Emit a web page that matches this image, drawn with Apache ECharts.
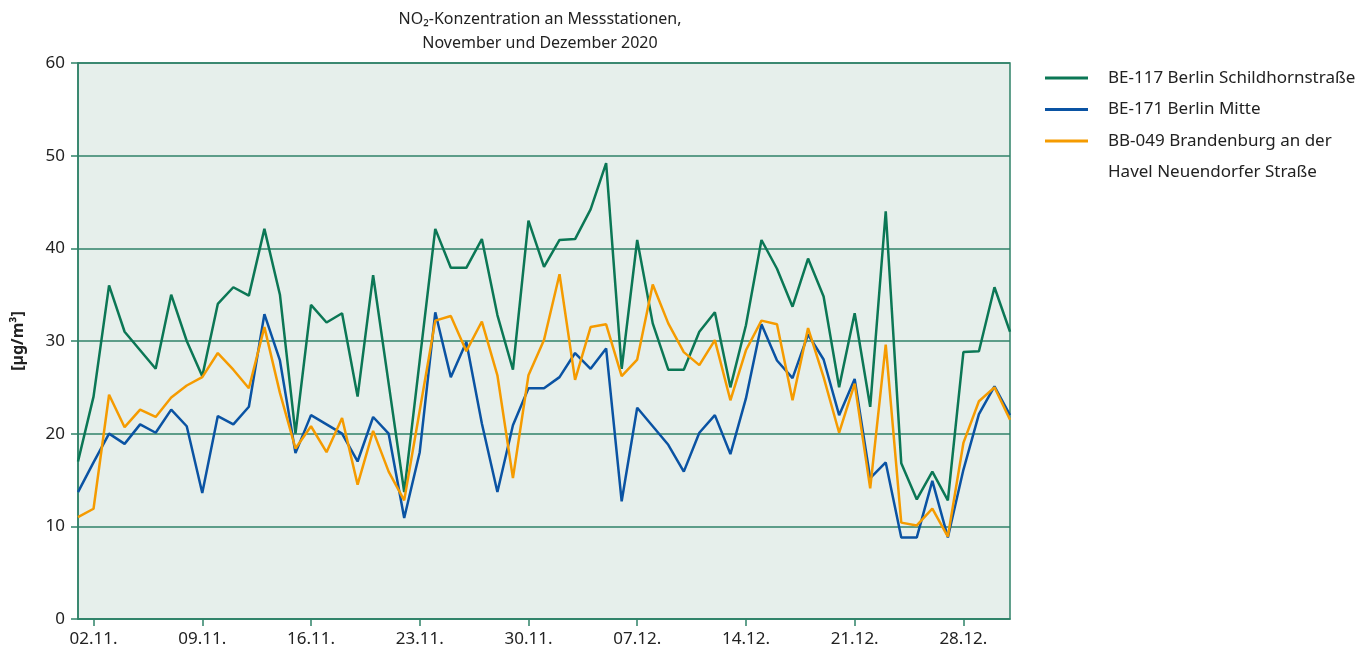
<!DOCTYPE html>
<html>
<head>
<meta charset="utf-8">
<script src="https://cdn.jsdelivr.net/npm/echarts@6/dist/echarts.min.js"></script>
<style>
    html, body { margin: 0; padding: 0; background: #fff; }
    #chart { width: 1372px; height: 656px; }
</style>
</head>
<body>
<div id="chart"></div>
<script>
    // Tage 01.11. bis 31.12.2020
    var days = [];
    for (var d = 1; d <= 30; d++) days.push((d < 10 ? '0' + d : d) + '.11.');
    for (var d = 1; d <= 31; d++) days.push((d < 10 ? '0' + d : d) + '.12.');

    var be117 = [17, 24, 36, 31, 29, 27, 35, 30, 26.2, 34, 35.8, 34.9, 42.1, 35, 20, 33.9, 32, 33, 24, 37.1,
                 25.4, 13.7, 27.9, 42.1, 37.9, 37.9, 41, 32.8, 26.9, 43, 38, 40.9, 41, 44.2, 49.2, 27,
                 40.9, 31.9, 26.9, 26.9, 31, 33.1, 25, 31.7, 40.9, 37.8, 33.7, 38.9, 34.8, 25, 33,
                 22.9, 44, 16.8, 12.9, 15.9, 12.8, 28.8, 28.9, 35.8, 31];
    var be171 = [13.7, 16.9, 20, 18.9, 21, 20.1, 22.6, 20.8, 13.6, 21.9, 21, 22.9, 32.9, 27.9, 17.9, 22, 21, 20, 17, 21.8,
                 20, 10.9, 18, 33.1, 26.1, 29.9, 21.1, 13.7, 20.9, 24.9, 24.9, 26.1, 28.7, 27, 29.2, 12.7,
                 22.8, 20.8, 18.8, 15.9, 20.1, 22, 17.8, 23.8, 31.8, 27.9, 26, 30.7, 28, 22, 25.9,
                 15.2, 16.9, 8.8, 8.8, 14.9, 8.8, 16.1, 22.1, 25.1, 22];
    var bb049 = [11, 11.9, 24.2, 20.7, 22.6, 21.8, 23.9, 25.2, 26.1, 28.7, 26.9, 24.9, 31.5, 24.4, 18.4, 20.8, 18, 21.7, 14.5, 20.3,
                 15.9, 12.8, 22.5, 32.2, 32.7, 28.9, 32.1, 26.3, 15.2, 26.3, 30.1, 37.2, 25.8, 31.5, 31.8, 26.2,
                 28, 36.1, 31.9, 28.8, 27.4, 30.1, 23.6, 29, 32.2, 31.8, 23.6, 31.4, 26.1, 20.1, 25.4,
                 14.1, 29.6, 10.4, 10.1, 11.9, 8.9, 19, 23.5, 25, 21.5];

    var names = ['BE-117 Berlin Schildhornstraße', 'BE-171 Berlin Mitte', 'BB-049 Brandenburg an der Havel Neuendorfer Straße'];
    var colors = ['#0b7755', '#0a53a3', '#f59b00'];
    var font = 'Noto Sans';

    var chart = echarts.init(document.getElementById('chart'));
    function tickAt(i) { return i % 7 === 1; }

    chart.setOption({
        animation: false,
        textStyle: { fontFamily: font },
        title: {
            text: 'NO₂-Konzentration an Messstationen,\nNovember und Dezember 2020',
            left: 535, top: 2, textAlign: 'center',
            textStyle: { fontFamily: font, fontSize: 16, fontWeight: 'normal', color: '#222', lineHeight: 24 }
        },
        legend: {
            orient: 'vertical',
            left: 1040, top: 63,
            itemWidth: 43, itemHeight: 3, itemGap: 11.5,
            icon: 'rect',
            data: names,
            formatter: function (n) { return n === names[2] ? 'BB-049 Brandenburg an der' : n; },
            textStyle: { fontFamily: font, fontSize: 17, color: '#222', lineHeight: 20, padding: [0, 0, 0, 15] }
        },
        graphic: [{
            type: 'text', left: 1108, top: 164,
            style: { text: 'Havel Neuendorfer Straße', font: '17px "' + font + '"', fill: '#222' }
        }],
        grid: {
            left: 78, right: 362, top: 63, bottom: 37,
            show: true, backgroundColor: '#e6efeb', borderColor: '#2f8268', borderWidth: 1.5
        },
        xAxis: {
            type: 'category',
            data: days,
            boundaryGap: false,
            axisLine: { lineStyle: { color: '#2f8268', width: 1.5 } },
            axisTick: { interval: function (i) { return tickAt(i); }, length: 7, lineStyle: { color: '#2f8268', width: 1.5 } },
            axisLabel: { interval: function (i) { return tickAt(i); }, fontFamily: font, fontSize: 17, color: '#222', margin: 12 }
        },
        yAxis: {
            type: 'value',
            min: 0, max: 60, interval: 10,
            name: '[µg/m³]',
            nameLocation: 'middle',
            nameGap: 52,
            nameTextStyle: { fontFamily: font, fontSize: 16, fontWeight: 'bold', color: '#222' },
            axisLine: { show: true, lineStyle: { color: '#2f8268', width: 1.5 } },
            axisTick: { show: true, length: 7, lineStyle: { color: '#2f8268', width: 1.5 } },
            axisLabel: { fontFamily: font, fontSize: 17, color: '#222', margin: 13 },
            splitLine: { lineStyle: { color: '#2f8268', width: 1.5 } }
        },
        series: [
            { name: names[0], type: 'line', data: be117 },
            { name: names[1], type: 'line', data: be171 },
            { name: names[2], type: 'line', data: bb049 }
        ].map(function (s, k) {
            s.showSymbol = false;
            s.symbol = 'none';
            s.color = colors[k];
            s.lineStyle = { width: 2.5, color: colors[k] };
            return s;
        })
    });
</script>
</body>
</html>
